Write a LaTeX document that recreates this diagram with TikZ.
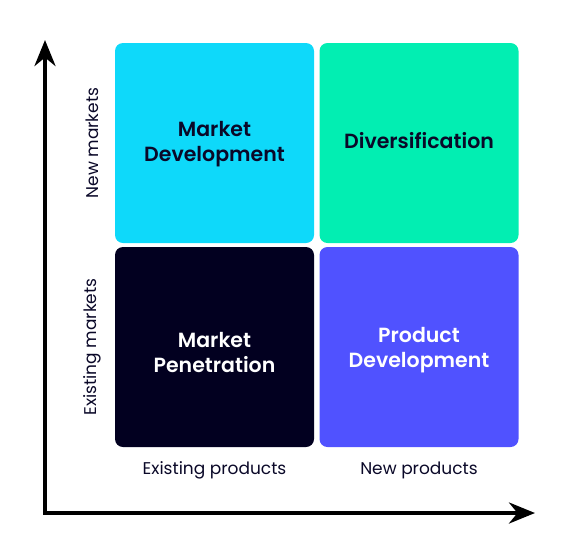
\documentclass[tikz,border=0pt]{standalone}
\usepackage{fontspec}
\setmainfont{Poppins}[BoldFont={Poppins SemiBold}]
\usetikzlibrary{arrows.meta}
\definecolor{ink}{RGB}{10,8,40}
\definecolor{mdcyan}{RGB}{14,217,250}
\definecolor{divgreen}{RGB}{2,238,178}
\definecolor{mpnavy}{RGB}{2,0,32}
\definecolor{pdblue}{RGB}{80,82,255}
\begin{document}
\begin{tikzpicture}[x=1pt,y=-1pt,
    quad/.style={rounded corners=8pt,minimum width=199pt,minimum height=200pt,inner sep=0pt},
    quadtext/.style={inner sep=0pt,align=center,font=\bfseries\fontsize{20.5}{25}\selectfont},
    axislabel/.style={text=ink,font=\fontsize{17}{20}\selectfont}]
    \useasboundingbox (0,0) rectangle (578,558);
    \node[quad,fill=mdcyan,label={[quadtext,text=ink,yshift=-1pt]center:{Market\\Development}}] (MD) at (214.5,143) {};
    \node[quad,fill=divgreen,label={[quadtext,text=ink,yshift=2pt]center:{Diversification}}] (DV) at (419,143) {};
    \node[quad,fill=mpnavy,label={[quadtext,text=white,yshift=-5pt]center:{Market\\Penetration}}] (MP) at (214.5,347) {};
    \node[quad,fill=pdblue,label={[quadtext,text=white,yshift=-3pt]center:{Product\\Development}}] (PD) at (419,347) {};
    \node[axislabel,rotate=90] (NM) at (92,143) {New markets};
    \node[axislabel,rotate=90] (EM) at (92,347) {Existing markets};
    \node[axislabel] (EP) at (214.5,470) {Existing products};
    \node[axislabel] (NP) at (419,470) {New products};
    \coordinate (O) at (45,513);
    \coordinate (Y) at (45,40);
    \coordinate (X) at (535,513);
    \draw[line width=4pt,{Stealth[length=26pt,width=21pt]}-{Stealth[length=26pt,width=21pt]}] (Y)--(O)--(X);
\end{tikzpicture}
\end{document}
